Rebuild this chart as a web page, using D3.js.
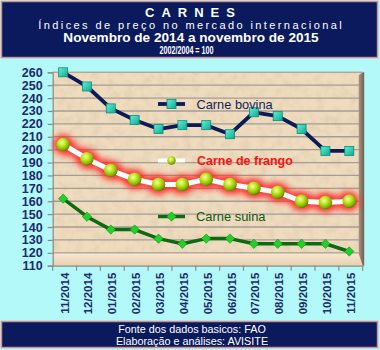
<!DOCTYPE html>
<html>
<head>
<meta charset="utf-8">
<script src="https://cdn.jsdelivr.net/npm/d3@7"></script>
<style>
  html, body { margin: 0; padding: 0; background: #b3f9f9; }
  svg { display: block; font-family: Arial, "Liberation Sans", sans-serif; }
</style>
</head>
<body>
<svg id="chart" width="380" height="350"></svg>
<script>
// Months shown on the horizontal axis
const months = ["11/2014","12/2014","01/2015","02/2015","03/2015","04/2015","05/2015",
                "06/2015","07/2015","08/2015","09/2015","10/2015","11/2015"];

// FAO price indices (2002/2004 = 100)
const bovina = [260, 249, 232, 223, 216, 219, 219, 212, 229, 226, 216, 199, 199];
const frango = [204, 193, 184, 177, 173, 173, 177, 173, 170, 167, 160, 159, 160];
const suina  = [162, 148, 138, 138, 131, 127, 131, 131, 127, 127, 127, 127, 121];

// Vertical axis ticks
const yTicks = [110,120,130,140,150,160,170,180,190,200,210,220,230,240,250,260];

const titleLines = ["CARNES", "Índices de preço no mercado internacional",
                    "Novembro de 2014 a novembro de 2015", "2002/2004 = 100"];
const footerLines = ["Fonte dos dados basicos: FAO", "Elaboração e análises: AVISITE"];

const svg = d3.select("#chart");
const W = 380, H = 350;
const plot = { left: 52.7, right: 362.7, top: 72.3, bottom: 265.7 };

const x = d3.scaleBand().domain(months).range([plot.left, plot.right]);
const xc = d => x(d) + x.bandwidth() / 2 - 1.5;
const y = d3.scaleLinear().domain([110, 260]).range([plot.bottom, plot.top]);

const defs = svg.append("defs");

// paper-like texture for the plot wall
const tex = defs.append("filter").attr("id", "paper").attr("x", 0).attr("y", 0)
  .attr("width", 1).attr("height", 1);
tex.append("feTurbulence").attr("type", "fractalNoise").attr("baseFrequency", 0.12)
  .attr("numOctaves", 3).attr("seed", 4).attr("result", "n");
tex.append("feColorMatrix").attr("type", "matrix")
  .attr("values", "0 0 0 0 0.55  0 0 0 0 0.42  0 0 0 0 0.28  0 0 0 -0.9 0.55");

// soft red halo around the chicken series
const glow = defs.append("filter").attr("id", "glow")
  .attr("x", -0.2).attr("y", -0.5).attr("width", 1.4).attr("height", 2);
glow.append("feGaussianBlur").attr("stdDeviation", 3.2);

// shaded spheres
const ball = defs.append("radialGradient").attr("id", "ball")
  .attr("cx", 0.4).attr("cy", 0.35).attr("r", 0.65);
ball.append("stop").attr("offset", "0%").attr("stop-color", "#f6ff9a");
ball.append("stop").attr("offset", "45%").attr("stop-color", "#b8e21c");
ball.append("stop").attr("offset", "85%").attr("stop-color", "#7ea800");
ball.append("stop").attr("offset", "100%").attr("stop-color", "#5b7a00");

const sq = defs.append("linearGradient").attr("id", "sq")
  .attr("x1", 0).attr("y1", 0).attr("x2", 1).attr("y2", 1);
sq.append("stop").attr("offset", "0%").attr("stop-color", "#5ff0d6");
sq.append("stop").attr("offset", "100%").attr("stop-color", "#12a892");

const floorG = defs.append("linearGradient").attr("id", "floor")
  .attr("x1", 0).attr("y1", 0).attr("x2", 0).attr("y2", 1);
floorG.append("stop").attr("offset", "0%").attr("stop-color", "#f7e7cf");
floorG.append("stop").attr("offset", "100%").attr("stop-color", "#e6cfae");

const sideG = defs.append("linearGradient").attr("id", "side")
  .attr("x1", 0).attr("y1", 0).attr("x2", 1).attr("y2", 0);
sideG.append("stop").attr("offset", "0%").attr("stop-color", "#a89682");
sideG.append("stop").attr("offset", "100%").attr("stop-color", "#6e5e50");

// page background
svg.append("rect").attr("width", W).attr("height", H).attr("fill", "#b3f9f9");

// header band
svg.append("rect").attr("x", 1.5).attr("y", 1.5).attr("width", 376).attr("height", 56)
  .attr("fill", "#0a1a5c").attr("stroke", "#d48c8c").attr("stroke-width", 1.5);
const head = svg.append("g").attr("fill", "#ffffff").attr("text-anchor", "middle");
head.append("text").attr("x", 190 + 3.5).attr("y", 16.5).attr("font-size", 13)
  .attr("font-weight", "bold").attr("letter-spacing", 7).text(titleLines[0]);
head.append("text").attr("x", 190 + 1.2).attr("y", 29).attr("font-size", 11)
  .attr("letter-spacing", 2.4).text(titleLines[1]);
head.append("text").attr("x", 191).attr("y", 42).attr("font-size", 13.6)
  .attr("font-weight", "bold").text(titleLines[2]);
head.append("text").attr("x", 186.5).attr("y", 54).attr("font-size", 11.5)
  .attr("font-weight", "bold").attr("textLength", 54).attr("lengthAdjust", "spacingAndGlyphs")
  .text(titleLines[3]);

// footer band
svg.append("rect").attr("x", 1.5).attr("y", 321.5).attr("width", 376).attr("height", 26)
  .attr("fill", "#0a1a5c").attr("stroke", "#d48c8c").attr("stroke-width", 1.5);
svg.append("g").attr("fill", "#ffffff").attr("text-anchor", "middle").attr("font-size", 10.8)
  .selectAll("text").data(footerLines).join("text")
  .attr("x", 192).attr("y", (d, i) => 332.5 + i * 12).text(d => d);

// plot wall
svg.append("rect").attr("x", plot.left).attr("y", plot.top)
  .attr("width", plot.right - plot.left).attr("height", plot.bottom - plot.top)
  .attr("fill", "#efdcbf");
svg.append("rect").attr("x", plot.left).attr("y", plot.top)
  .attr("width", plot.right - plot.left).attr("height", plot.bottom - plot.top)
  .attr("filter", "url(#paper)").attr("opacity", 0.6);

// gridlines
svg.append("g").selectAll("line").data(yTicks.filter(t => t > 110)).join("line")
  .attr("x1", plot.left).attr("x2", plot.right - 1)
  .attr("y1", d => y(d)).attr("y2", d => y(d))
  .attr("stroke", "#a39d95").attr("stroke-width", 1.3);

// beveled floor and right-hand side of the wall
svg.append("path")
  .attr("d", `M${plot.left},${y(120) + 1}L${plot.right - 4},${y(120) + 1}L${plot.right},${plot.bottom}L${plot.left},${plot.bottom}Z`)
  .attr("fill", "url(#floor)");
svg.append("path")
  .attr("d", `M${plot.right - 4},${plot.top + 3}L${plot.right},${plot.top}L${plot.right + 1.5},${plot.top}L${plot.right + 1.5},${plot.bottom}L${plot.right},${plot.bottom}L${plot.right - 4},${y(120) + 1}Z`)
  .attr("fill", "url(#side)");
svg.append("line").attr("x1", plot.left).attr("x2", plot.right)
  .attr("y1", plot.top).attr("y2", plot.top).attr("stroke", "#b8ab9a").attr("stroke-width", 1);

// y axis
const yAxis = d3.axisLeft(y).tickValues(yTicks).tickSize(5).tickPadding(5);
const gy = svg.append("g").attr("transform", `translate(${plot.left},0)`).call(yAxis);
gy.select(".domain").attr("stroke", "#8a8a8a").attr("stroke-width", 1.2);
gy.selectAll(".tick line").attr("stroke", "#8a8a8a").attr("stroke-width", 1.2);
gy.selectAll(".tick text").attr("fill", "#1c2a6e").attr("font-size", 12.5)
  .attr("font-weight", "bold").attr("font-family", "Arial, 'Liberation Sans', sans-serif");

// x axis
const xAxis = d3.axisBottom(x).tickSize(0).tickPadding(0);
const gx = svg.append("g").attr("transform", `translate(0,${plot.bottom})`).call(xAxis);
gx.select(".domain").attr("stroke", "#8a8a8a").attr("stroke-width", 1.2);
gx.selectAll(".tick text")
  .attr("fill", "#1c2a6e").attr("font-size", 11.5).attr("font-weight", "bold")
  .attr("font-family", "Arial, 'Liberation Sans', sans-serif")
  .attr("text-anchor", "end").attr("dy", null)
  .attr("transform", "translate(4,7) rotate(-90)");
// category separators below the axis
svg.append("g").selectAll("line").data(months.concat(["end"])).join("line")
  .attr("x1", (d, i) => plot.left + i * x.step()).attr("x2", (d, i) => plot.left + i * x.step())
  .attr("y1", plot.bottom).attr("y2", plot.bottom + 5)
  .attr("stroke", "#8a8a8a").attr("stroke-width", 1.2);

const line = d3.line().x((d, i) => xc(months[i])).y(d => y(d));

// Carne bovina
svg.append("path").datum(bovina).attr("d", line).attr("fill", "none")
  .attr("stroke", "#0c1b58").attr("stroke-width", 3.8).attr("stroke-linejoin", "round");
svg.append("g").selectAll("rect").data(bovina).join("rect")
  .attr("x", (d, i) => xc(months[i]) - 4.5).attr("y", d => y(d) - 4.5)
  .attr("width", 9).attr("height", 9).attr("fill", "url(#sq)")
  .attr("stroke", "#0d8d7a").attr("stroke-width", 0.8);

// Carne de frango
svg.append("path").datum(frango).attr("d", line).attr("fill", "none")
  .attr("stroke", "#ff2a2a").attr("stroke-width", 13).attr("stroke-linejoin", "round")
  .attr("stroke-linecap", "round").attr("opacity", 0.85).attr("filter", "url(#glow)");
svg.append("g").selectAll("circle").data(frango).join("circle")
  .attr("cx", (d, i) => xc(months[i])).attr("cy", d => y(d)).attr("r", 10)
  .attr("fill", "#ff2a2a").attr("opacity", 0.8).attr("filter", "url(#glow)");
svg.append("path").datum(frango).attr("d", line).attr("fill", "none")
  .attr("stroke", "#ffffff").attr("stroke-width", 5).attr("stroke-linejoin", "round");
svg.append("g").selectAll("circle").data(frango).join("circle")
  .attr("cx", (d, i) => xc(months[i])).attr("cy", d => y(d)).attr("r", 6.8)
  .attr("fill", "url(#ball)");

// Carne suína
const diamond = d3.symbol().type(d3.symbolDiamond2).size(55);
svg.append("path").datum(suina).attr("d", line).attr("fill", "none")
  .attr("stroke", "#0b6a12").attr("stroke-width", 3.5).attr("stroke-linejoin", "round");
svg.append("g").selectAll("path").data(suina).join("path")
  .attr("transform", (d, i) => `translate(${xc(months[i])},${y(d)})`)
  .attr("d", diamond).attr("fill", "#22d02a").attr("stroke", "#0f8a16").attr("stroke-width", 0.6);

// legend entries inside the plot
const lg = svg.append("g");
lg.append("line").attr("x1", 158).attr("x2", 185).attr("y1", 104).attr("y2", 104)
  .attr("stroke", "#0c1b58").attr("stroke-width", 3.8);
lg.append("rect").attr("x", 167).attr("y", 99.5).attr("width", 9).attr("height", 9)
  .attr("fill", "url(#sq)").attr("stroke", "#0d8d7a").attr("stroke-width", 0.8);
lg.append("text").attr("x", 196.5).attr("y", 108.5).attr("font-size", 12.8)
  .attr("fill", "#14245e").text("Carne bovina");

lg.append("line").attr("x1", 158).attr("x2", 185).attr("y1", 160.5).attr("y2", 160.5)
  .attr("stroke", "#ffffff").attr("stroke-width", 4);
lg.append("circle").attr("cx", 171.5).attr("cy", 160.5).attr("r", 4.2).attr("fill", "url(#ball)");
lg.append("text").attr("x", 197).attr("y", 164.5).attr("font-size", 12.5)
  .attr("font-weight", "bold").attr("fill", "#ff1010").text("Carne de frango");

lg.append("line").attr("x1", 158).attr("x2", 185).attr("y1", 216.5).attr("y2", 216.5)
  .attr("stroke", "#0b6a12").attr("stroke-width", 3.5);
lg.append("path").attr("transform", "translate(171.5,216.5)").attr("d", diamond)
  .attr("fill", "#22d02a").attr("stroke", "#0f8a16").attr("stroke-width", 0.6);
lg.append("text").attr("x", 196).attr("y", 221).attr("font-size", 12.9)
  .attr("fill", "#0d5a16").text("Carne suina");
</script>
</body>
</html>
